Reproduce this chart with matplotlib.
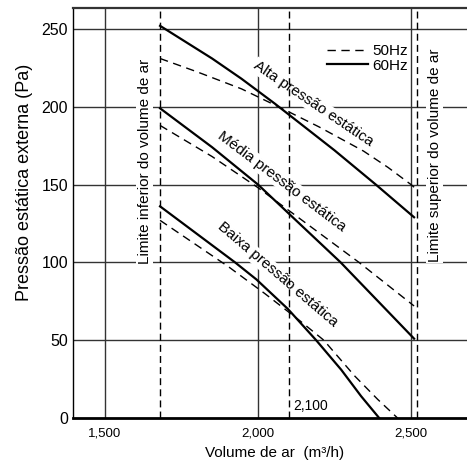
"""
Curvas de pressão estática externa x volume de ar (50Hz / 60Hz).
"""

import matplotlib
matplotlib.use("Agg")
import matplotlib.pyplot as plt

plt.rcParams['font.family'] = ['Liberation Sans', 'DejaVu Sans']

# Alta pressão estática
alta_60_x = [1680, 1850, 1946, 2055, 2250, 2385, 2510]
alta_60_y = [252, 231, 218, 202, 172, 150, 129]
alta_50_x = [1680, 1800, 1946, 2098, 2200, 2345, 2425, 2500, 2515]
alta_50_y = [231, 222.5, 211.5, 197, 187, 171.5, 161, 150, 147.5]

# Média pressão estática
media_60_x = [1680, 1850, 2000, 2270, 2510]
media_60_y = [199, 174, 150, 100, 51]
media_50_x = [1680, 1850, 2000, 2330, 2510]
media_50_y = [188, 168, 148, 100, 72]

# Baixa pressão estática
baixa_60_x = [1680, 1925, 1995, 2098, 2190, 2272, 2337, 2396]
baixa_60_y = [136, 100, 89, 70, 50, 31, 14, 0]
baixa_50_x = [1680, 1905, 2022, 2140, 2215, 2316, 2391, 2456]
baixa_50_y = [127, 97, 80, 62, 50, 27, 12, 0]

# limites de volume de ar
limite_inferior = 1680
limite_superior = 2520
volume_marcado = 2100

x_ticks = [1500, 2000, 2500]
x_tick_labels = ["1,500", "2,000", "2,500"]
y_ticks = [0, 50, 100, 150, 200, 250]

fig = plt.figure(figsize=(4.67, 4.66), dpi=100)
ax = fig.add_axes([0.156, 0.103, 0.844, 0.880])

ax.set_xlim(1395, 2683)
ax.set_ylim(0, 263.5)

# grade
for xv in x_ticks:
    ax.axvline(xv, color="#333333", lw=1.0, zorder=0.5)
for yv in y_ticks[1:]:
    ax.axhline(yv, color="#333333", lw=1.0, zorder=0.5)

# limites
dash_lim = (0, (5, 3))
for xv in [limite_inferior, volume_marcado, limite_superior]:
    ax.axvline(xv, color="black", lw=1.0, linestyle=dash_lim, zorder=2)

# curvas
dash_curve = (0, (6, 4))
ax.plot(alta_50_x, alta_50_y, color="black", lw=1.0, linestyle=dash_curve, zorder=3, label="50Hz")
ax.plot(alta_60_x, alta_60_y, color="black", lw=1.6, zorder=3, label="60Hz")
ax.plot(media_50_x, media_50_y, color="black", lw=1.0, linestyle=dash_curve, zorder=3)
ax.plot(media_60_x, media_60_y, color="black", lw=1.6, zorder=3)
ax.plot(baixa_50_x, baixa_50_y, color="black", lw=1.0, linestyle=dash_curve, zorder=3)
ax.plot(baixa_60_x, baixa_60_y, color="black", lw=1.6, zorder=3)

# rótulos
box = dict(facecolor="white", edgecolor="none", pad=1.0)
ax.text(2180, 202, "Alta pressão estática", rotation=-34, fontsize=11,
        ha="center", va="center", rotation_mode="anchor", bbox=box, zorder=1.5)
ax.text(2079, 152, "Média pressão estática", rotation=-37, fontsize=11,
        ha="center", va="center", rotation_mode="anchor", bbox=box, zorder=1.5)
ax.text(2064, 92, "Baixa pressão estática", rotation=-40.5, fontsize=11,
        ha="center", va="center", rotation_mode="anchor", bbox=box, zorder=1.5)
ax.text(1630, 165, "Limite inferior do volume de ar", rotation=90, fontsize=11,
        ha="center", va="center", bbox=box, zorder=1.5)
ax.text(2578, 169, "Limite superior do volume de ar", rotation=90, fontsize=11,
        ha="center", va="center", bbox=box, zorder=1.5)
ax.text(2114, 8, "2,100", fontsize=10, ha="left", va="center", zorder=3)

ax.legend(loc="upper right", bbox_to_anchor=(0.85, 0.912), frameon=False,
          fontsize=11, handlelength=2.7, handletextpad=0.25, labelspacing=0.05,
          borderpad=0, borderaxespad=0)

ax.set_xticks(x_ticks)
ax.set_xticklabels(x_tick_labels, fontsize=9.5)
ax.set_yticks(y_ticks)
ax.set_yticklabels([str(v) for v in y_ticks], fontsize=11.5)
ax.tick_params(axis="y", length=0, pad=3.5)
ax.tick_params(axis="x", length=0, pad=7)

ax.set_xlabel("Volume de ar  (m³/h)", fontsize=11, va="center")
ax.xaxis.set_label_coords(0.511, -0.085)
ax.set_ylabel("Pressão estática externa (Pa)", fontsize=13, va="center")
ax.yaxis.set_label_coords(-0.122, 0.574)

ax.spines["right"].set_visible(False)
ax.spines["left"].set_linewidth(1.0)
ax.spines["bottom"].set_linewidth(2.0)
ax.spines["top"].set_linewidth(1.6)
ax.spines["top"].set_color("#333333")

fig.savefig("out.png", dpi=100)
